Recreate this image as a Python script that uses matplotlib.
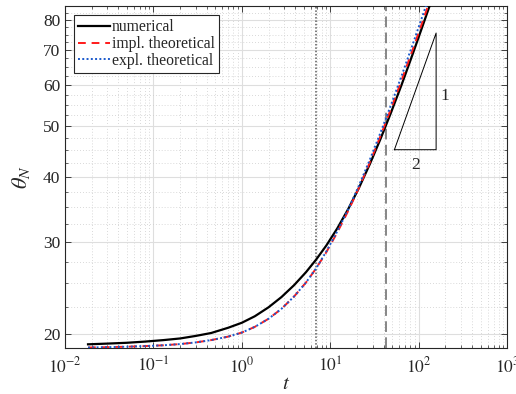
import numpy as np
import matplotlib
matplotlib.use('Agg')
import matplotlib.pyplot as plt
from matplotlib.ticker import FixedLocator, NullFormatter

# common time samples of the three curves
t = [0.0182, 0.03, 0.05, 0.08, 0.13, 0.2, 0.3, 0.45, 0.7, 1.0, 1.4, 2.0,
     2.8, 3.9, 5.3, 6.9, 9, 12, 16, 21, 28, 37, 48, 64, 85, 112, 140]

# numerical solution
theta_num = [19.10, 19.16, 19.23, 19.33, 19.46, 19.60, 19.82, 20.08, 20.55,
             21.01, 21.62, 22.49, 23.53, 24.81, 26.26, 27.76, 29.54, 31.88,
             34.76, 38.07, 42.35, 47.35, 52.89, 60.11, 68.67, 78.43, 87.40]

# implicit theoretical
theta_impl = [18.83, 18.86, 18.90, 18.95, 19.02, 19.12, 19.26, 19.46, 19.76,
              20.12, 20.63, 21.38, 22.34, 23.60, 25.09, 26.70, 28.68, 31.31,
              34.48, 38.08, 42.67, 47.97, 53.79, 61.32, 70.05, 79.99, 89.23]

# explicit theoretical
theta_expl = [18.83, 18.86, 18.90, 18.95, 19.02, 19.12, 19.26, 19.46, 19.76,
              20.12, 20.63, 21.38, 22.34, 23.60, 25.09, 26.70, 28.77, 31.47,
              34.72, 38.46, 43.18, 48.69, 54.70, 62.55, 71.66, 82.07, 91.73]

# marker times
t_dotted = 6.9
t_dashed = 42.8

# slope triangle
tri_t = [53, 157, 157, 53]
tri_theta = [45.1, 45.1, 75.5, 45.1]

x_ticks = [1e-2, 1e-1, 1e0, 1e1, 1e2, 1e3]
x_ticklabels = ['$10^{-2}$', '$10^{-1}$', '$10^{0}$', '$10^{1}$', '$10^{2}$', '$10^{3}$']
y_ticks = [20, 30, 40, 50, 60, 70, 80]

plt.rcParams['font.family'] = ['Liberation Serif', 'DejaVu Serif']
plt.rcParams['mathtext.fontset'] = 'stix'

TXT = (0.15, 0.15, 0.15)

fig = plt.figure(figsize=(5.16, 3.94), dpi=100)
ax = fig.add_axes([0.126, 0.117, 0.857, 0.868])
ax.set_xscale('log')
ax.set_yscale('log')

ax.plot(t, theta_num, color='black', lw=1.6, label='numerical', zorder=3)
ax.plot(t, theta_impl, color=(1.0, 0.1, 0.1), lw=1.4, ls=(0, (4, 3)),
        label='impl. theoretical', zorder=4)
ax.plot(t, theta_expl, color=(0.1, 0.35, 0.8), lw=1.4, ls=(0, (1, 1.2)),
        label='expl. theoretical', zorder=5)

ax.axvline(t_dotted, color=(0.35, 0.35, 0.35), lw=1.1, ls=(0, (1, 1.2)), zorder=2)
ax.axvline(t_dashed, color=(0.4, 0.4, 0.4), lw=1.1, ls=(0, (7, 3.5)), zorder=2)

ax.plot(tri_t, tri_theta, color='black', lw=0.7, zorder=2)
ax.text(199, 57.2, '1', fontsize=12.5, color=TXT, ha='center', va='center')
ax.text(91, 42.2, '2', fontsize=12.5, color=TXT, ha='center', va='center')

ax.set_xlim(1e-2, 1e3)
ax.set_ylim(18.8, 85.1)

ax.set_xticks(x_ticks)
ax.set_xticklabels(x_ticklabels)
ax.set_yticks(y_ticks)
ax.set_yticklabels([str(v) for v in y_ticks])
ax.xaxis.set_minor_locator(FixedLocator(
    [m * 10.0 ** e for e in range(-2, 3) for m in range(2, 10)]))
ax.xaxis.set_minor_formatter(NullFormatter())
ax.yaxis.set_minor_locator(FixedLocator(
    [v for v in np.arange(17.5, 86, 2.5) if v % 10 != 0]))
ax.yaxis.set_minor_formatter(NullFormatter())

ax.tick_params(which='both', direction='in', top=True, right=True,
               colors=TXT, labelsize=12.5)
ax.tick_params(which='major', length=4, width=0.6)
ax.tick_params(which='minor', length=2, width=0.5)
ax.tick_params(axis='x', pad=6)

ax.grid(which='major', color=(0.87, 0.87, 0.87), lw=0.8, ls='-')
ax.grid(which='minor', color=(0.8, 0.8, 0.8), lw=0.6, ls=(0, (1, 2.5)))
ax.set_axisbelow(True)
for s in ax.spines.values():
    s.set_color(TXT)
    s.set_linewidth(0.8)

ax.set_xlabel('$t$', fontsize=15, color=TXT, labelpad=-1)
ax.set_ylabel(r'$\theta_N$', fontsize=16, color=TXT, labelpad=8)

leg = ax.legend(loc='upper left', fontsize=11.3, handlelength=2.0,
                handletextpad=0.15, labelspacing=0.05, borderpad=0.25,
                borderaxespad=0.6, fancybox=False, framealpha=1)
leg.get_frame().set_edgecolor(TXT)
leg.get_frame().set_linewidth(0.8)
for txt in leg.get_texts():
    txt.set_color(TXT)

fig.savefig('out.png', dpi=100)
